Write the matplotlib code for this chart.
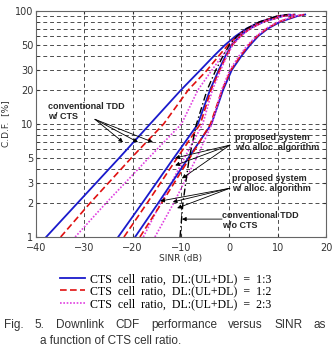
"""
Downlink CDF versus SINR for several CTS cell ratios (log-scale CDF axis).
"""

import numpy as np
import matplotlib
matplotlib.use("Agg")
import matplotlib.pyplot as plt

CDF_LEVELS = [1, 2, 5, 10, 20, 30, 40, 50, 60, 70, 80, 90, 93]

# conventional TDD w/ CTS
conv_cts_13 = [-37.9, -31.4, -22.8, -16.4, -10.0, -6.0, -3.2, -0.9, 1.3, 3.6, 6.3, 10.0, 12.5]
conv_cts_12 = [-34.9, -28.8, -20.3, -13.6, -8.5, -4.6, -2.2, -0.3, 1.7, 3.8, 6.4, 10.0, 12.3]
conv_cts_23 = [-31.9, -25.5, -16.7, -9.9, -6.5, -3.6, -1.5, 0.2, 2.0, 4.0, 6.6, 10.2, 12.5]
# proposed system w/o allocation algorithm
prop_noalloc_13 = [-23.0, -18.0, -11.5, -6.5, -4.0, -2.2, -0.8, 0.5, 2.2, 4.2, 7.0, 11.0, 13.5]
prop_noalloc_12 = [-21.8, -17.0, -10.8, -6.0, -3.8, -2.0, -0.6, 0.6, 2.3, 4.3, 7.0, 11.0, 13.5]
prop_noalloc_23 = [-17.8, -14.2, -9.3, -5.5, -3.5, -1.8, -0.5, 0.7, 2.4, 4.4, 7.1, 11.0, 13.5]
# proposed system w/ allocation algorithm
prop_alloc_13 = [-19.5, -14.7, -8.5, -3.7, -1.3, 0.5, 2.5, 4.3, 6.0, 8.0, 10.5, 14.0, 15.7]
prop_alloc_12 = [-18.5, -14.0, -8.2, -3.9, -1.5, 0.3, 2.3, 4.0, 5.8, 7.8, 10.2, 13.7, 15.5]
prop_alloc_23 = [-15.4, -11.5, -6.8, -3.6, -1.6, 0.1, 2.0, 3.8, 5.6, 7.6, 10.0, 13.5, 15.3]
# conventional TDD w/o CTS
conv_nocts = [-10.2, -9.6, -8.3, -6.8, -4.6, -2.8, -1.3, 0.0, 1.6, 3.6, 6.2, 9.8, 12.0]

LEGEND_LABELS = [
    "CTS  cell  ratio,  DL:(UL+DL)  =  1:3",
    "CTS  cell  ratio,  DL:(UL+DL)  =  1:2",
    "CTS  cell  ratio,  DL:(UL+DL)  =  2:3",
]
Y_TICKS = [1, 2, 3, 5, 10, 20, 30, 50, 100]
Y_MINOR = [4, 6, 7, 8, 9, 40, 60, 70, 80, 90]
X_TICKS = [-40, -30, -20, -10, 0, 10, 20]

BLUE = "#1a1acc"
RED = "#e01010"
MAGENTA = "#e040e0"

fig = plt.figure(figsize=(3.34, 3.6), dpi=100)
ax = fig.add_axes([36 / 334, 1 - 237 / 360, 290 / 334, 226 / 360])

styles = [
    dict(color=BLUE, linestyle="-", linewidth=1.3),
    dict(color=RED, linestyle=(0, (4, 2)), linewidth=1.2),
    dict(color=MAGENTA, linestyle=(0, (1, 1)), linewidth=1.2),
]
groups = [
    (conv_cts_13, conv_cts_12, conv_cts_23),
    (prop_noalloc_13, prop_noalloc_12, prop_noalloc_23),
    (prop_alloc_13, prop_alloc_12, prop_alloc_23),
]
handles = []
for gi, grp in enumerate(groups):
    for si, xs in enumerate(grp):
        ln, = ax.plot(xs, CDF_LEVELS, **styles[si])
        if gi == 0:
            handles.append(ln)
ax.plot(conv_nocts, CDF_LEVELS, color="black", linestyle=(0, (5, 2, 1, 2)), linewidth=1.0)

ax.set_yscale("log")
ax.set_xlim(-40, 20)
ax.set_ylim(1, 100)
ax.set_xticks(X_TICKS)
ax.set_yticks(Y_TICKS)
ax.set_yticklabels([str(v) for v in Y_TICKS])
ax.set_yticks(Y_MINOR, minor=True)
ax.yaxis.set_minor_formatter(matplotlib.ticker.NullFormatter())
ax.grid(True, which="both", color="0.3", linestyle=(0, (4, 3)), linewidth=0.7)
ax.tick_params(which="both", direction="in", top=True, right=True, length=2.5,
               labelsize=7, colors="0.2", pad=2)
ax.tick_params(axis="x", pad=4)
for sp in ax.spines.values():
    sp.set_color("0.4")
    sp.set_linewidth(0.8)

ax.set_xlabel("SINR (dB)", fontsize=6.5, color="0.2", labelpad=1)
ax.set_ylabel("C.D.F.  [%]", fontsize=6.5, color="0.2")
ax.yaxis.set_label_coords(-26 / 290, 0.5)

# annotations
tfont = dict(fontsize=6.5, fontweight="bold", color="0.15", va="center", ha="left",
             linespacing=1.15, family="Liberation Sans")
ax.text(-37.5, 12.8, "conventional TDD\nw/ CTS", **tfont)
ax.text(1.2, 6.86, "proposed system\nw/o alloc. algorithm", **tfont)
ax.text(0.55, 2.97, "proposed system\nw/ alloc. algorithm", **tfont)
ax.text(-1.5, 1.4, "conventional TDD\nw/o CTS", **tfont)

arrow = dict(arrowstyle="-|>", lw=0.6, color="black", mutation_scale=6, shrinkA=0, shrinkB=0)
for tail, tips in [
    ((-27.8, 11.0), [(-22.0, 6.9), (-18.9, 6.9), (-15.8, 6.9)]),
    ((0.1, 6.5), [(-11.2, 5.0), (-11.2, 4.3), (-9.8, 3.3)]),
    ((0.1, 2.7), [(-14.3, 2.08), (-11.7, 2.04), (-10.8, 1.8)]),
    ((-1.5, 1.44), [(-9.8, 1.44)]),
]:
    for tip in tips:
        ax.annotate("", xy=tip, xytext=tail, arrowprops=arrow)

# legend
fig.legend(handles, LEGEND_LABELS, loc="upper left", bbox_to_anchor=(54 / 334, 1 - 267 / 360),
           frameon=False, prop={"family": "Liberation Serif", "size": 8.6},
           handlelength=2.1, handletextpad=0.4, labelspacing=0.05, borderpad=0)

# caption, justified first line
words = ["Fig.", "5.", "Downlink", "CDF", "performance", "versus", "SINR", "as"]
cap = dict(fontsize=8.5, color="0.2", family="Liberation Sans", va="center", ha="left")
fig.canvas.draw()
renderer = fig.canvas.get_renderer()
texts = [fig.text(0, 1 - 325 / 360, w, **cap) for w in words]
widths = [t.get_window_extent(renderer).width for t in texts]
x0, x1 = 4, 326
gap = (x1 - x0 - sum(widths)) / (len(words) - 1)
x = x0
for t, w in zip(texts, widths):
    t.set_x(x / 334)
    x += w + gap
fig.text(40 / 334, 1 - 341 / 360, "a function of CTS cell ratio.", **cap)

fig.savefig("out.png", dpi=100)
